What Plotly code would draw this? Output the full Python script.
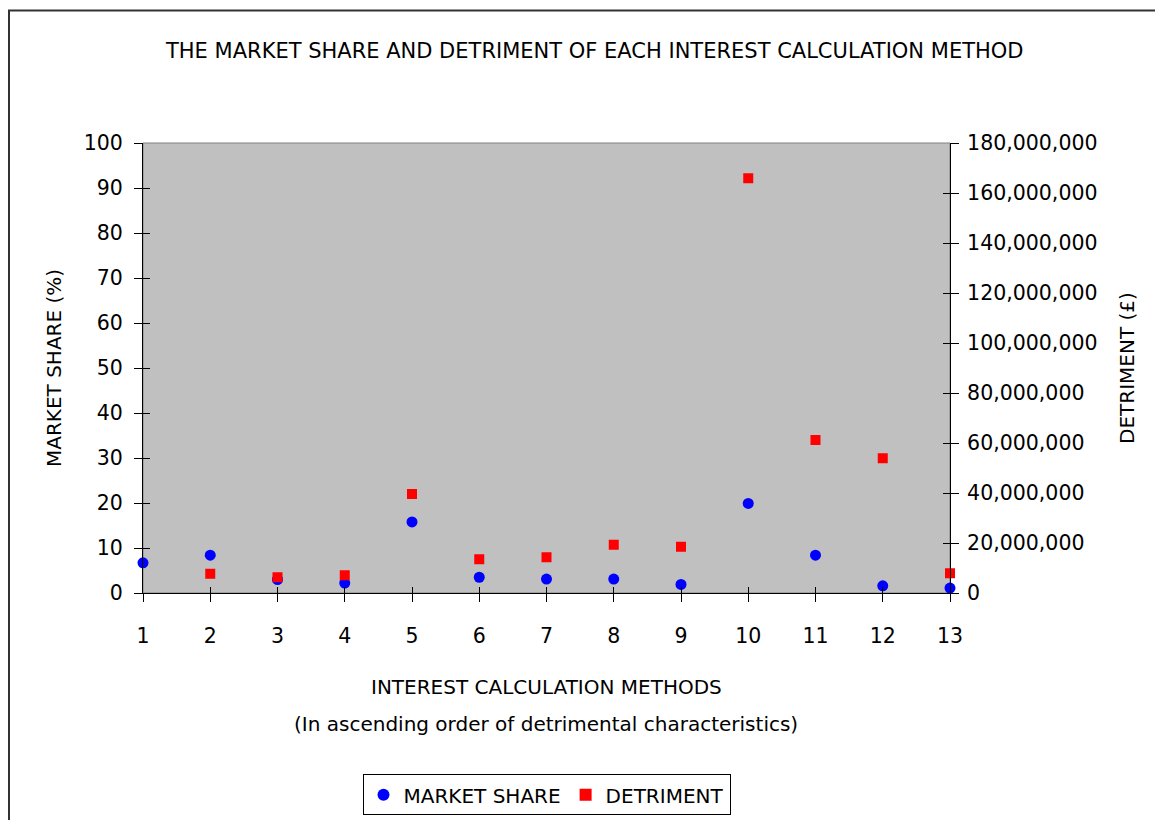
import plotly.graph_objects as go

methods = list(range(1, 14))
market_share = [6.7, 8.4, 3.0, 2.2, 15.8, 3.5, 3.1, 3.1, 1.9, 19.9, 8.4, 1.6, 1.1]
detriment = [None, 7.7e6, 6.3e6, 7.1e6, 39.6e6, 13.5e6, 14.3e6, 19.3e6, 18.5e6,
             165.9e6, 61.2e6, 53.9e6, 7.9e6]

title_text = "THE MARKET SHARE AND DETRIMENT OF EACH INTEREST CALCULATION METHOD"
x_title = "INTEREST CALCULATION METHODS"
x_subtitle = "(In ascending order of detrimental characteristics)"
y_title = "MARKET SHARE (%)"
y2_title = "DETRIMENT (£)"

FONT = "DejaVu Sans"
W, H = 1163, 820
OFFX, OFFY = 8, 7.3  # page offset
L, R, T, B = 143 - OFFX, 950 - OFFX, 142 - OFFY, 592 - OFFY
pw, ph = R - L, B - T


def px(xs):
    return (xs - OFFX - L) / pw


def py(ys):
    return (B - (ys - OFFY)) / ph


fig = go.Figure()
fig.add_trace(go.Scatter(
    x=methods, y=market_share, mode="markers", name="MARKET SHARE",
    marker=dict(symbol="circle", size=11, color="#0000FF"),
    cliponaxis=False, yaxis="y"))
fig.add_trace(go.Scatter(
    x=methods, y=detriment, mode="markers", name="DETRIMENT",
    marker=dict(symbol="square", size=10, color="#FF0000"),
    cliponaxis=False, yaxis="y2"))

tickfont = dict(family=FONT, size=20.5, color="#000")

fig.update_layout(
    width=W, height=H,
    margin=dict(l=L, r=W - R, t=T, b=H - B, pad=0),
    paper_bgcolor="white",
    plot_bgcolor="#C0C0C0",
    font=dict(family=FONT, size=20, color="#000"),
    showlegend=True,
    legend=dict(orientation="h", x=0.5, xanchor="center", y=py(773.3), yanchor="top",
                bgcolor="white", bordercolor="#000", borderwidth=1,
                font=dict(family=FONT, size=20, color="#000"),
                itemsizing="constant"),
    xaxis=dict(range=[1, 13], tickmode="array", tickvals=methods,
               ticktext=[str(m) for m in methods],
               showgrid=False, zeroline=False, showline=True, linecolor="#000", linewidth=1,
               ticks="outside", ticklen=8, tickcolor="#000", tickwidth=1,
               tickfont=tickfont, ticklabelstandoff=16),
    yaxis=dict(range=[0, 100], dtick=10, tick0=0, showgrid=False, zeroline=False,
               showline=True, linecolor="#000", linewidth=1,
               ticks="outside", ticklen=8, tickcolor="#000", tickwidth=1,
               tickfont=tickfont, ticklabelstandoff=7),
    yaxis2=dict(range=[0, 180e6], dtick=20e6, tick0=0, overlaying="y", side="right",
                anchor="x", showgrid=False, zeroline=False,
                showline=True, linecolor="#000", linewidth=1,
                ticks="outside", ticklen=8, tickcolor="#000", tickwidth=1,
                tickformat=",d", tickfont=tickfont, ticklabelstandoff=4),
    # inside tick halves
    xaxis2=dict(range=[1, 13], tickmode="array", tickvals=methods, overlaying="x",
                anchor="y", side="bottom", showgrid=False, zeroline=False, showline=False,
                ticks="inside", ticklen=6, tickcolor="#000", showticklabels=False),
    yaxis3=dict(range=[0, 100], dtick=10, tick0=0, overlaying="y", side="left",
                anchor="x", showgrid=False, zeroline=False, showline=False,
                ticks="inside", ticklen=7, tickcolor="#000", showticklabels=False),
    yaxis4=dict(range=[0, 180e6], dtick=20e6, tick0=0, overlaying="y", side="right",
                anchor="x", showgrid=False, zeroline=False, showline=False,
                ticks="inside", ticklen=7, tickcolor="#000", showticklabels=False),
)

# dummy empty traces so overlay axes are drawn
fig.add_trace(go.Scatter(x=[None], y=[None], xaxis="x2", yaxis="y3",
                         showlegend=False, hoverinfo="skip"))
fig.add_trace(go.Scatter(x=[None], y=[None], xaxis="x", yaxis="y4",
                         showlegend=False, hoverinfo="skip"))

# plot area gray border (below axes lines)
fig.add_shape(type="rect", xref="paper", yref="paper", x0=0, y0=0, x1=1, y1=1,
              line=dict(color="#808080", width=1), layer="below")
# outer chart frame
fig.add_shape(type="rect", xref="paper", yref="paper",
              x0=px(9), y0=py(845), x1=px(1185), y1=py(9.5),
              line=dict(color="#333333", width=2), layer="above")

ann_font = dict(family=FONT, size=20, color="#000")
fig.add_annotation(text=title_text, xref="paper", yref="paper", x=px(594), y=py(50),
                   showarrow=False, xanchor="center", yanchor="middle",
                   font=dict(family=FONT, size=21, color="#000"))
fig.add_annotation(text=x_title, xref="paper", yref="paper", x=px(546), y=py(686),
                   showarrow=False, xanchor="center", yanchor="middle", font=ann_font)
fig.add_annotation(text=x_subtitle, xref="paper", yref="paper", x=px(546), y=py(722.5),
                   showarrow=False, xanchor="center", yanchor="middle", font=ann_font)
fig.add_annotation(text=y_title, xref="paper", yref="paper", x=px(54), y=py(367),
                   showarrow=False, xanchor="center", yanchor="middle", textangle=-90,
                   font=ann_font)
fig.add_annotation(text=y2_title, xref="paper", yref="paper", x=px(1127), y=py(367),
                   showarrow=False, xanchor="center", yanchor="middle", textangle=-90,
                   font=ann_font)

fig.write_html("out.html")
